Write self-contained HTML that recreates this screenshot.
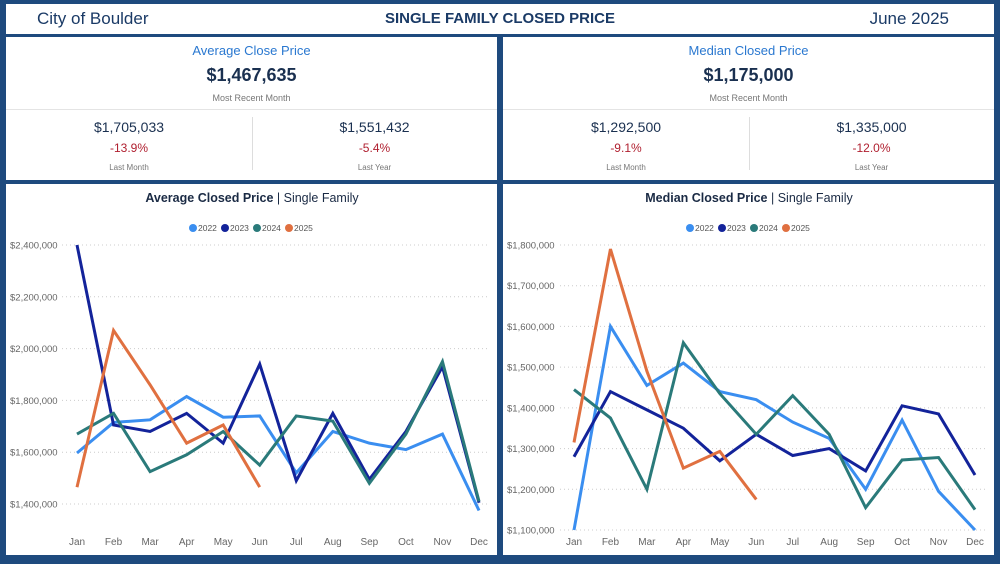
<!DOCTYPE html>
<html><head><meta charset="utf-8"><style>
*{box-sizing:border-box;margin:0;padding:0}
body{width:1000px;height:564px;background:#1e4a7e;font-family:"Liberation Sans",sans-serif;position:relative;overflow:hidden}
.box{position:absolute;background:#fff}
.t{position:absolute;text-align:center;white-space:nowrap}
</style></head><body>
<div class="box" style="left:6px;top:4px;width:988px;height:30px">
 <div class="t" style="left:31px;top:5px;font-size:17px;color:#1a3a66">City of Boulder</div>
 <div class="t" style="left:0;width:988px;top:6px;font-size:15px;font-weight:bold;color:#1a3a66">SINGLE FAMILY CLOSED PRICE</div>
 <div class="t" style="right:45px;top:5px;font-size:17px;color:#1a3a66">June 2025</div>
</div>
<div id="cards"></div>
<div class="box" style="left:6px;top:184px;width:491px;height:371px"></div>
<div class="box" style="left:503px;top:184px;width:491px;height:371px"></div>
<svg id="svg" width="1000" height="564" style="position:absolute;left:0;top:0"></svg>
<script>
const months=["Jan","Feb","Mar","Apr","May","Jun","Jul","Aug","Sep","Oct","Nov","Dec"];
const seriesNames=["2022","2023","2024","2025"];
const colors=["#3a8ef0","#13239a","#2a7a7a","#e07040"];
const avg2022=[1597,1715,1725,1815,1735,1740,1520,1680,1635,1610,1670,1375];
const avg2023=[2400,1705,1680,1750,1635,1940,1490,1750,1495,1680,1930,1405];
const avg2024=[1670,1750,1525,1590,1680,1550,1740,1720,1480,1670,1950,1410];
const avg2025=[1465,2070,1860,1635,1705,1465];
const avgTicks=[1400,1600,1800,2000,2200,2400];
const med2022=[1100,1600,1455,1510,1440,1420,1365,1325,1200,1370,1195,1100];
const med2023=[1280,1440,1395,1350,1270,1335,1283,1300,1245,1405,1385,1235];
const med2024=[1445,1375,1200,1560,1435,1335,1430,1335,1155,1272,1278,1150];
const med2025=[1315,1790,1490,1252,1293,1175];
const medTicks=[1100,1200,1300,1400,1500,1600,1700,1800];

const cards=[
 {x:6,name:"avg",title:"Average Close Price",val:"$1,467,635",lm:"$1,705,033",lmp:"-13.9%",ly:"$1,551,432",lyp:"-5.4%"},
 {x:503,name:"median",title:"Median Closed Price",val:"$1,175,000",lm:"$1,292,500",lmp:"-9.1%",ly:"$1,335,000",lyp:"-12.0%"}];
let h="";
cards.forEach(c=>{
 h+=`<div class="box" style="left:${c.x}px;top:37px;width:491px;height:143px">
 <div class="t" style="left:0;width:491px;top:6px;font-size:13px;color:#2a78d0">${c.title}</div>
 <div class="t" style="left:0;width:491px;top:28px;font-size:18px;font-weight:bold;color:#1a3050">${c.val}</div>
 <div class="t" style="left:0;width:491px;top:56px;font-size:9px;color:#777">Most Recent Month</div>
 <div style="position:absolute;left:0;top:72px;width:491px;height:1px;background:#e4e4e4"></div>
 <div style="position:absolute;left:246px;top:80px;width:1px;height:53px;background:#ddd"></div>
 <div class="t" style="left:0;width:246px;top:82px;font-size:14px;color:#1a3050">${c.lm}</div>
 <div class="t" style="left:0;width:246px;top:104px;font-size:12px;color:#b02030">${c.lmp}</div>
 <div class="t" style="left:0;width:246px;top:126px;font-size:8px;color:#777">Last Month</div>
 <div class="t" style="left:246px;width:245px;top:82px;font-size:14px;color:#1a3050">${c.ly}</div>
 <div class="t" style="left:246px;width:245px;top:104px;font-size:12px;color:#b02030">${c.lyp}</div>
 <div class="t" style="left:246px;width:245px;top:126px;font-size:8px;color:#777">Last Year</div>
 </div>`;});
document.getElementById("cards").innerHTML=h;

const NS="http://www.w3.org/2000/svg";
const svg=document.getElementById("svg");
function el(t,a,p){const e=document.createElementNS(NS,t);for(const k in a)e.setAttribute(k,a[k]);(p||svg).appendChild(e);return e;}
function fmt(v){return "$"+(v*1000).toLocaleString("en-US");}
function chart(cfg){
 const g=el("g",{});
 
 
 const x=i=>cfg.x0+i*(cfg.x1-cfg.x0)/11;
 const y=v=>cfg.yTop+(cfg.vMax-v)*(cfg.yBot-cfg.yTop)/(cfg.vMax-cfg.vMin);
 const tt=el("text",{x:cfg.cx,y:202,"text-anchor":"middle","font-size":"12.5",fill:"#1a2a44"},g);
 tt.innerHTML=`<tspan font-weight="bold">${cfg.title}</tspan> | Single Family`;
 
 
 let lx=cfg.cx-63;
 seriesNames.forEach((s,i)=>{
  const lg=el("g",{},g);
  
  
  el("circle",{cx:lx+4,cy:228,r:4,fill:colors[i]},lg);
  const t=el("text",{x:lx+9,y:231,"font-size":"8.5",fill:"#555"},lg);t.textContent=s;
  lx+=32;
 });
 cfg.ticks.forEach(v=>{
  const gl=el("line",{x1:cfg.gx,x2:cfg.x1+10,y1:y(v),y2:y(v),stroke:"#ccc","stroke-dasharray":"1 3"},g);
  
  
  const t=el("text",{x:cfg.lx,y:y(v)+3.5,"font-size":"9.5",fill:"#666"},g);t.textContent=fmt(v);
  
  
 });
 months.forEach((m,i)=>{
  const t=el("text",{x:x(i),y:545,"text-anchor":"middle","font-size":"10",fill:"#666"},g);t.textContent=m;
  
  
 });
 cfg.data.forEach((d,si)=>{
  const p=el("polyline",{points:d.map((v,i)=>x(i)+","+y(v)).join(" "),fill:"none",stroke:colors[si],"stroke-width":"3","stroke-linejoin":"miter"},g);
  
  
 });
}
chart({name:"avg",title:"Average Closed Price",cx:252,x0:77,x1:479,yTop:245,yBot:504,vMax:2400,vMin:1400,ticks:avgTicks,lx:10,gx:62,data:[avg2022,avg2023,avg2024,avg2025]});
chart({name:"median",title:"Median Closed Price",cx:749,x0:574,x1:975,yTop:245,yBot:530,vMax:1800,vMin:1100,ticks:medTicks,lx:507,gx:560,data:[med2022,med2023,med2024,med2025]});
</script>
</body></html>
